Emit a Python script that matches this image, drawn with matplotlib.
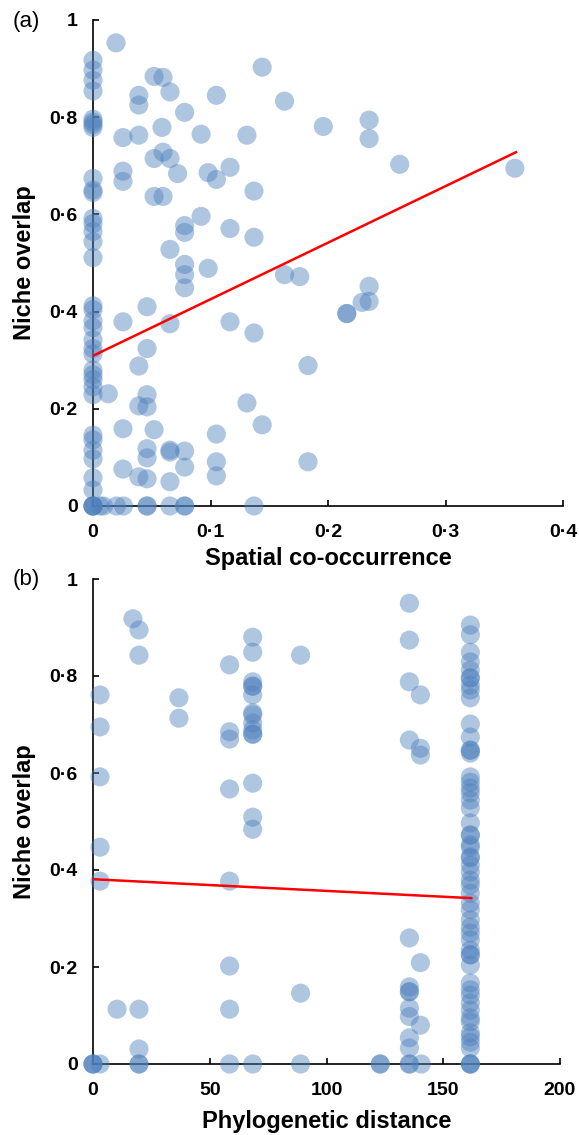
import numpy as np
import matplotlib.pyplot as plt

plt.rcParams['font.family'] = ['Liberation Sans', 'DejaVu Sans']

# (a) spatial co-occurrence vs niche overlap
a_x0_y = [0.917, 0.897, 0.876, 0.854, 0.796, 0.79, 0.785, 0.779, 0.674, 0.65, 0.645,
          0.592, 0.581, 0.565, 0.544, 0.511, 0.412, 0.404, 0.381, 0.367, 0.342, 0.324,
          0.313, 0.28, 0.27, 0.26, 0.245, 0.229, 0.146, 0.136, 0.115, 0.097, 0.058,
          0.033, 0.0, 0.0, 0.0, 0.0]
a_x = [0.0196, 0.144, 0.052, 0.0596, 0.0655, 0.105, 0.039, 0.039, 0.163, 0.078,
       0.0587, 0.0255, 0.039, 0.092, 0.131, 0.052, 0.0596, 0.0655, 0.072, 0.0255,
       0.0255, 0.098, 0.105, 0.1166, 0.137, 0.052, 0.0596, 0.092, 0.078, 0.078,
       0.1166, 0.137, 0.0655, 0.078, 0.098, 0.196, 0.235, 0.235, 0.261, 0.359,
       0.163, 0.176, 0.078, 0.078, 0.046, 0.0255, 0.0655, 0.1166, 0.137, 0.046,
       0.039, 0.013, 0.039, 0.046, 0.046, 0.131, 0.144, 0.0255, 0.052, 0.105,
       0.046, 0.046, 0.0655, 0.0655, 0.078, 0.078, 0.105, 0.105, 0.0255, 0.039,
       0.046, 0.0655, 0.235, 0.229, 0.235, 0.216, 0.216, 0.183, 0.183,
       0.006, 0.009, 0.02, 0.026, 0.046, 0.046, 0.0655, 0.078, 0.078, 0.137]
a_y = [0.953, 0.903, 0.884, 0.882, 0.852, 0.845, 0.845, 0.825, 0.833, 0.81,
       0.779, 0.758, 0.763, 0.765, 0.763, 0.715, 0.728, 0.715, 0.684, 0.689,
       0.668, 0.686, 0.672, 0.697, 0.648, 0.637, 0.637, 0.596, 0.577, 0.563,
       0.571, 0.553, 0.528, 0.497, 0.489, 0.781, 0.794, 0.756, 0.703, 0.695,
       0.476, 0.472, 0.476, 0.449, 0.41, 0.379, 0.375, 0.379, 0.356, 0.324,
       0.288, 0.231, 0.206, 0.204, 0.229, 0.212, 0.167, 0.159, 0.157, 0.148,
       0.118, 0.099, 0.115, 0.111, 0.113, 0.08, 0.091, 0.062, 0.076, 0.06,
       0.056, 0.05, 0.452, 0.419, 0.421, 0.396, 0.396, 0.289, 0.091,
       0.0, 0.0, 0.0, 0.0, 0.0, 0.0, 0.0, 0.0, 0.0, 0.0]
a_fit_x = [0.0, 0.36]
a_fit_y = [0.309, 0.728]

# (b) phylogenetic distance vs niche overlap
b_x = [17.1, 19.7, 19.7, 3, 3, 3, 3, 3, 36.8, 36.8,
       58.5, 58.5, 58.5, 58.5, 58.5, 58.5, 58.5,
       68.4, 68.4, 68.4, 68.4, 68.4, 68.4, 68.4, 68.4, 68.4, 68.4, 68.4, 68.4, 68.4,
       68.4, 68.4,
       88.9, 88.9, 135.5, 135.5, 135.5, 140.2, 135.5, 140.2, 140.2,
       135.5, 140.2, 135.5, 135.5, 135.5, 135.5, 135.5, 140.2, 135.5, 135.5,
       10.3, 19.7, 19.7,
       0, 0, 0, 3, 19.7, 19.7, 58.5, 68.4, 88.9, 123, 123, 135.5, 135.5, 140.6,
       161.6, 161.6, 161.6]
b_y = [0.918, 0.895, 0.843, 0.761, 0.695, 0.592, 0.447, 0.377, 0.755, 0.713,
       0.823, 0.685, 0.67, 0.567, 0.377, 0.202, 0.113,
       0.88, 0.849, 0.788, 0.779, 0.779, 0.761, 0.724, 0.72, 0.703, 0.689, 0.68,
       0.68, 0.579, 0.509, 0.484,
       0.843, 0.146, 0.95, 0.874, 0.788, 0.761, 0.668, 0.651, 0.637,
       0.26, 0.209, 0.159, 0.149, 0.149, 0.115, 0.098, 0.08, 0.054, 0.033,
       0.113, 0.113, 0.031,
       0.0, 0.0, 0.0, 0.0, 0.0, 0.0, 0.0, 0.0, 0.0, 0.0, 0.0, 0.0, 0.0, 0.0,
       0.0, 0.0, 0.0]
b_col_x = 161.6
b_col_y = [0.905, 0.885, 0.849, 0.829, 0.812, 0.796, 0.796, 0.781, 0.771, 0.755,
           0.701, 0.674, 0.647, 0.647, 0.641, 0.592, 0.581, 0.569, 0.559, 0.544,
           0.528, 0.497, 0.472, 0.472, 0.452, 0.447, 0.427, 0.425, 0.41, 0.396,
           0.379, 0.369, 0.352, 0.332, 0.318, 0.297, 0.282, 0.27, 0.256, 0.235,
           0.225, 0.225, 0.204, 0.167, 0.153, 0.142, 0.126, 0.111, 0.095, 0.087,
           0.064, 0.056, 0.045, 0.033]
b_fit_x = [0.0, 162.0]
b_fit_y = [0.381, 0.342]

yticks = [0, 0.2, 0.4, 0.6, 0.8, 1]
ytick_labels = ['0', '0·2', '0·4', '0·6', '0·8', '1']
a_xticks = [0, 0.1, 0.2, 0.3, 0.4]
a_xtick_labels = ['0', '0·1', '0·2', '0·3', '0·4']
b_xticks = [0, 50, 100, 150, 200]
b_xtick_labels = ['0', '50', '100', '150', '200']

pt_color = '#4F81BD'
fig = plt.figure(figsize=(5.79, 11.35), dpi=100)
ax1 = fig.add_axes([93 / 579, 1 - 506 / 1135, 470 / 579, 486 / 1135])
ax2 = fig.add_axes([93 / 579, 1 - 1064 / 1135, 467 / 579, 485 / 1135])


def style(ax, xticks, xlabels, xlabel, xpad):
    ax.set_ylim(0, 1)
    ax.set_xlim(xticks[0], xticks[-1])
    ax.set_yticks(yticks)
    ax.set_yticklabels(ytick_labels, fontweight='bold', fontsize=14)
    ax.set_xticks(xticks)
    ax.set_xticklabels(xlabels, fontweight='bold', fontsize=14)
    ax.spines['top'].set_visible(False)
    ax.spines['right'].set_visible(False)
    for s in ['left', 'bottom']:
        ax.spines[s].set_linewidth(1.2)
    ax.tick_params(direction='in', length=4, width=1.2)
    ax.tick_params(axis='x', pad=13)
    ax.tick_params(axis='y', pad=11)
    ax.set_ylabel('Niche overlap', fontweight='bold', fontsize=17, labelpad=10)
    ax.set_xlabel(xlabel, fontweight='bold', fontsize=17, labelpad=xpad)


ax1.scatter([0] * len(a_x0_y), a_x0_y, s=190, color=pt_color, alpha=0.45,
            edgecolors='none', clip_on=False, zorder=3)
ax1.scatter(a_x, a_y, s=190, color=pt_color, alpha=0.45, edgecolors='none',
            clip_on=False, zorder=3)
ax1.plot(a_fit_x, a_fit_y, color='red', lw=1.8, zorder=4)
style(ax1, a_xticks, a_xtick_labels, 'Spatial co-occurrence', 4)
fig.text(13 / 579, 1 - 22 / 1135, '(a)', fontsize=16, va='center', ha='left')

ax2.scatter(b_x, b_y, s=190, color=pt_color, alpha=0.45, edgecolors='none',
            clip_on=False, zorder=3)
ax2.scatter([b_col_x] * len(b_col_y), b_col_y, s=190, color=pt_color, alpha=0.45,
            edgecolors='none', clip_on=False, zorder=3)
ax2.plot(b_fit_x, b_fit_y, color='red', lw=1.8, zorder=4)
style(ax2, b_xticks, b_xtick_labels, 'Phylogenetic distance', 8)
fig.text(13 / 579, 1 - 580 / 1135, '(b)', fontsize=16, va='center', ha='left')

fig.savefig('out.png', dpi=100)
